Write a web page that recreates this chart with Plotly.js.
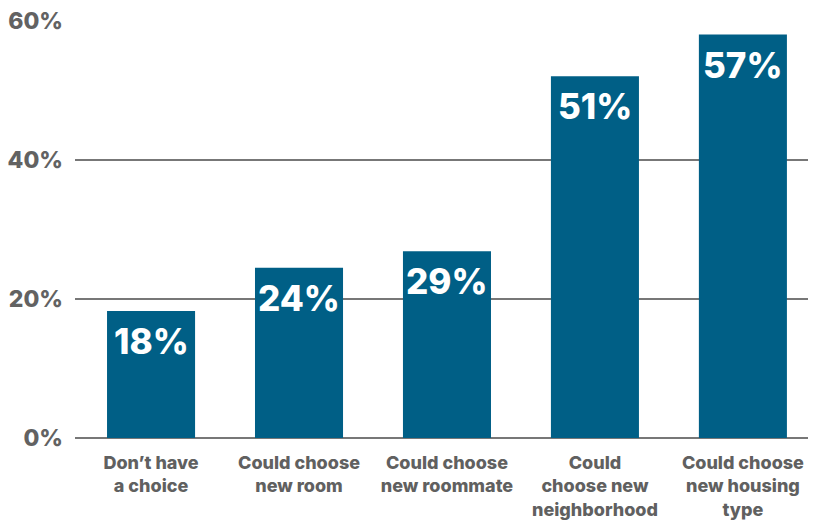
<!DOCTYPE html>
<html>
<head>
<meta charset="utf-8">
<script src="https://cdn.plot.ly/plotly-3.0.1.min.js"></script>
<style>html,body{margin:0;padding:0;background:#fff}#chart{width:818px;height:523px}</style>
</head>
<body>
<div id="chart"></div>
<script>
var categories = ["Don’t have<br>a choice", "Could choose<br>new room", "Could choose<br>new roommate", "Could<br>choose new<br>neighborhood", "Could choose<br>new housing<br>type"];
var values = [18.3, 24.5, 26.9, 52.1, 58.1];
var valueLabels = ["18%", "24%", "29%", "51%", "57%"];
var yTickVals = [0, 20, 40, 60];
var yTickText = ["0%", "20%", "40%", "60%"];

var FONT = "Inter, 'Open Sans', sans-serif";
var trace = {
  type: "bar",
  x: categories,
  y: values,
  marker: {color: "#005f86"},
  hoverinfo: "none"
};
var annotations = categories.map(function (c, i) {
  return {
    x: c, y: values[i], xref: "x", yref: "y",
    text: valueLabels[i], showarrow: false,
    yanchor: "top", yshift: -7,
    font: {family: FONT, size: 35, color: "#ffffff", weight: 800}
  };
});
var layout = {
  width: 818, height: 523,
  margin: {l: 75, r: 10, t: 21, b: 85},
  paper_bgcolor: "#ffffff", plot_bgcolor: "#ffffff",
  showlegend: false,
  bargap: 0.405,
  xaxis: {
    type: "category",
    range: [-0.514, 4.44],
    showgrid: false, zeroline: false, showline: false,
    ticks: "", ticklabelstandoff: 12,
    tickfont: {family: FONT, size: 18, color: "#606060", weight: 800}
  },
  yaxis: {
    range: [0, 60.05],
    tickvals: yTickVals, ticktext: yTickText,
    showgrid: true, gridcolor: "#777777", gridwidth: 1.5,
    zeroline: true, zerolinecolor: "#777777", zerolinewidth: 1.5,
    showline: false, ticks: "", ticklabelstandoff: 11,
    tickfont: {family: FONT, size: 23, color: "#626262", weight: 800}
  },
  annotations: annotations
};
Plotly.newPlot("chart", [trace], layout, {staticPlot: true, displayModeBar: false});
</script>
</body>
</html>
